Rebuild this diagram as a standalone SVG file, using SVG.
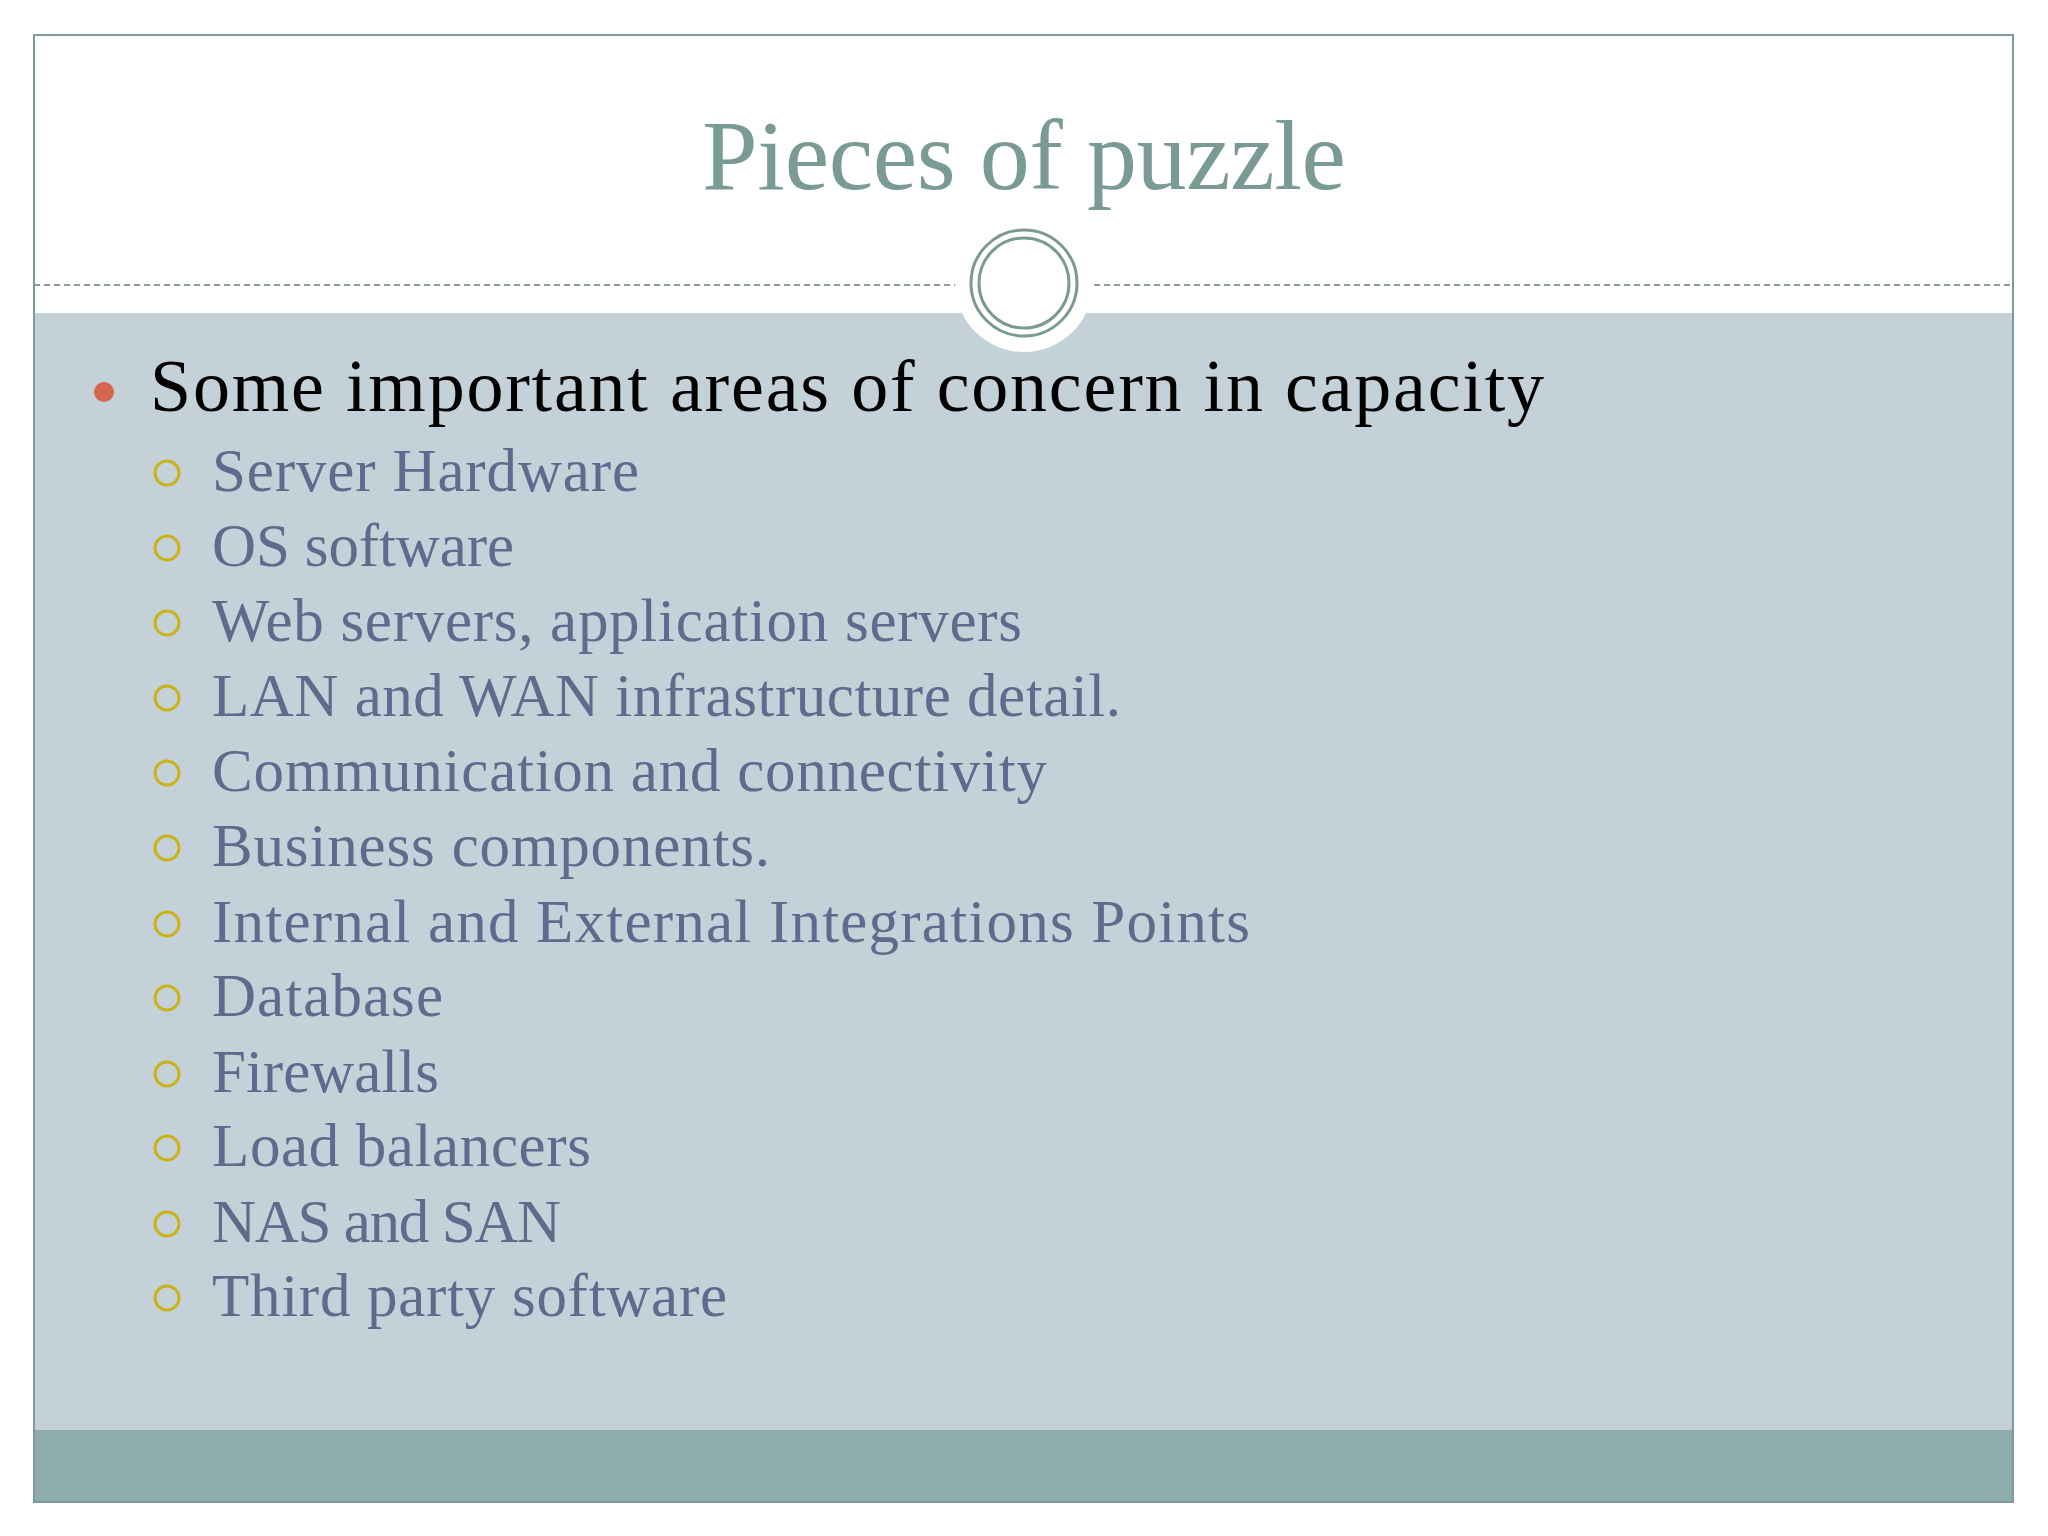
<svg xmlns="http://www.w3.org/2000/svg" width="2048" height="1536" viewBox="0 0 2048 1536">
<style>
.sub{font-family:"Liberation Serif","DejaVu Serif",serif;font-size:61px;fill:#5f6a8c}
.sb{fill:none;stroke:#c9b317;stroke-width:3}
</style>
<rect width="2048" height="1536" fill="#fff"/>
<rect x="34" y="313" width="1979" height="1117" fill="#c5d1d8"/>
<rect x="34" y="1430" width="1979" height="72" fill="#8eabad"/>
<rect x="34" y="35" width="1979" height="1467" fill="none" stroke="#7f9a9c" stroke-width="2"/>
<line x1="34" y1="285" x2="2013" y2="285" stroke="#8a9ea2" stroke-width="2" stroke-dasharray="6,4"/>
<circle cx="1024" cy="283" r="69" fill="#fff"/>
<circle cx="1024" cy="283" r="53" fill="none" stroke="#7a9a95" stroke-width="3"/>
<circle cx="1024" cy="283" r="45" fill="none" stroke="#7a9a95" stroke-width="3"/>
<text x="1024" y="189" text-anchor="middle" font-family="Liberation Serif,DejaVu Serif,serif" font-size="100" fill="#7a9a95" textLength="644" lengthAdjust="spacing">Pieces of puzzle</text>
<g id="main"><circle cx="104" cy="392" r="10" fill="#d6674e"/>
<text x="150" y="411" font-family="Liberation Serif,DejaVu Serif,serif" font-size="74" fill="#000" textLength="1394" lengthAdjust="spacing">Some important areas of concern in capacity</text></g>
<g id="items">
<circle class="sb" cx="167" cy="473" r="12"/><text class="sub" x="212" y="491" textLength="427">Server Hardware</text>
<circle class="sb" cx="167" cy="548" r="12"/><text class="sub" x="212" y="566" textLength="302">OS software</text>
<circle class="sb" cx="167" cy="623" r="12"/><text class="sub" x="212" y="641" textLength="810">Web servers, application servers</text>
<circle class="sb" cx="167" cy="698" r="12"/><text class="sub" x="212" y="716" textLength="909">LAN and WAN infrastructure detail.</text>
<circle class="sb" cx="167" cy="773" r="12"/><text class="sub" x="212" y="791" textLength="835">Communication and connectivity</text>
<circle class="sb" cx="167" cy="848" r="12"/><text class="sub" x="212" y="866" textLength="558">Business components.</text>
<circle class="sb" cx="167" cy="924" r="12"/><text class="sub" x="212" y="942" textLength="1038">Internal and External Integrations Points</text>
<circle class="sb" cx="167" cy="998" r="12"/><text class="sub" x="212" y="1016" textLength="231">Database</text>
<circle class="sb" cx="167" cy="1074" r="12"/><text class="sub" x="212" y="1092" textLength="227">Firewalls</text>
<circle class="sb" cx="167" cy="1148" r="12"/><text class="sub" x="212" y="1166" textLength="379">Load balancers</text>
<circle class="sb" cx="167" cy="1224" r="12"/><text class="sub" x="212" y="1242" textLength="349">NAS and SAN</text>
<circle class="sb" cx="167" cy="1298" r="12"/><text class="sub" x="212" y="1316" textLength="515">Third party software</text>
</g>
</svg>
